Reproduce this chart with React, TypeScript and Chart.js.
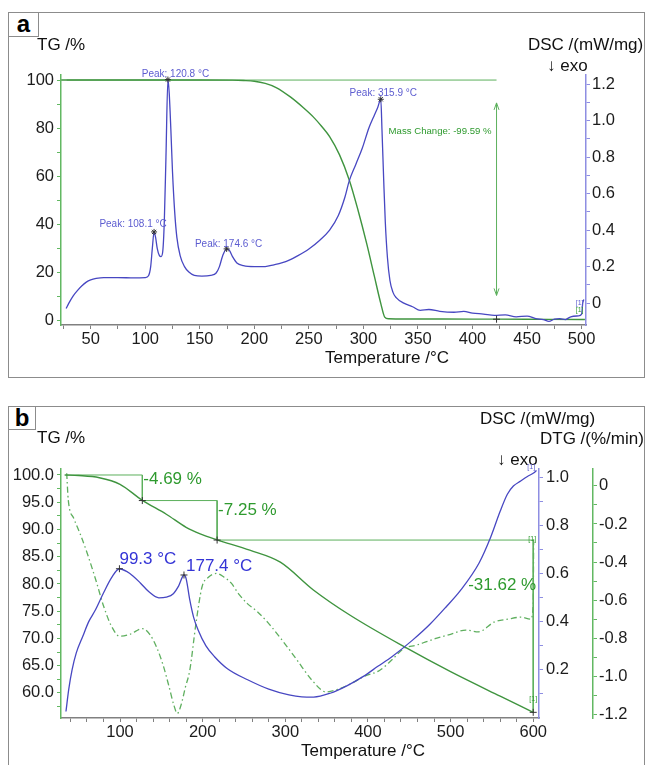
import React, { useEffect, useRef } from "react";
import { Chart, registerables } from "chart.js";
Chart.register(...registerables);

// ---------------- Panel a data ----------------
const aTgTemp = [23, 60, 100, 150, 180, 190, 200, 210, 220, 233, 245, 254, 262, 269, 278, 287, 295, 303, 310, 316, 319.5, 323, 340, 400, 450, 500, 503];
const aTgValue = [100, 100, 100, 100, 99.95, 99.8, 99.5, 98.6, 96.9, 93, 88.5, 84.7, 80.6, 76.5, 69, 58.5, 46, 32, 18.5, 7, 1.5, 0.8, 0.7, 0.65, 0.6, 0.5, 0.5];
const aDscTemp = [27.5, 30, 34, 38, 42, 46, 50, 55, 62, 75, 90, 100, 103, 105, 106.5, 108.1, 109.5, 111, 113, 114.5, 116, 117.5, 119, 120.8, 122, 123.5, 125, 127, 129, 132, 136, 140, 145, 152, 160, 165, 168, 171, 174.6, 177, 180, 184, 190, 200, 210, 218, 225, 232, 240, 250, 260, 269, 277, 283, 287, 293, 299, 305, 310, 313, 315.9, 317, 318.6, 320, 322, 324.3, 327, 330, 337, 345, 352, 360, 370, 383, 392, 400, 410, 420, 430, 440, 450, 458, 465, 470, 475, 480, 485, 490, 497, 500, 501, 502];
const aDscValue = [-0.03, 0.0, 0.04, 0.07, 0.095, 0.115, 0.127, 0.135, 0.14, 0.14, 0.138, 0.14, 0.15, 0.2, 0.3, 0.39, 0.36, 0.3, 0.26, 0.255, 0.28, 0.45, 0.8, 1.225, 1.15, 0.95, 0.72, 0.5, 0.36, 0.26, 0.2, 0.17, 0.152, 0.148, 0.152, 0.165, 0.2, 0.26, 0.297, 0.29, 0.255, 0.22, 0.205, 0.2, 0.2, 0.21, 0.22, 0.235, 0.26, 0.297, 0.345, 0.4, 0.48, 0.58, 0.67, 0.76, 0.85, 0.96, 1.03, 1.07, 1.117, 0.95, 0.67, 0.45, 0.25, 0.124, 0.06, 0.03, 0.0, -0.02, -0.04, -0.035, -0.045, -0.05, -0.045, -0.055, -0.06, -0.067, -0.064, -0.075, -0.071, -0.085, -0.09, -0.1, -0.088, -0.085, -0.09, -0.075, -0.07, -0.06, 0.0, 0.02];
const aPeakTemp = [108.1, 120.8, 174.6, 315.9];
const aPeakDsc = [0.39, 1.225, 0.297, 1.117];
const aPeakLabels = ["Peak: 108.1 °C", "Peak: 120.8 °C", "Peak: 174.6 °C", "Peak: 315.9 °C"];
const aRefLineTemp = [28, 422];
const aRefLineTg = [100, 100];
const aMassTemp = 422;
const aMassRange = [10.5, 90.5];
const aMassEndTg = 0.6;
const aMassLabel = "Mass Change: -99.59 %";
const aEndTemp = 500;
const aXTicks = [25, 50, 75, 100, 125, 150, 175, 200, 225, 250, 275, 300, 325, 350, 375, 400, 425, 450, 475, 500];
const aXLabels = [50, 100, 150, 200, 250, 300, 350, 400, 450, 500];
const aTgTicks = [0, 10, 20, 30, 40, 50, 60, 70, 80, 90, 100];
const aTgLabels = [0, 20, 40, 60, 80, 100];
const aDscTicks = [0, 0.1, 0.2, 0.3, 0.4, 0.5, 0.6, 0.7, 0.8, 0.9, 1.0, 1.1, 1.2];
const aDscLabels = [0, 0.2, 0.4, 0.6, 0.8, 1.0, 1.2];

// ---------------- Panel b data ----------------
const bTgTemp = [33, 50, 75, 100, 127, 156, 180, 197, 217.5, 257, 294, 334, 378, 446, 500, 560, 600];
const bTgValue = [100.0, 99.9, 99.5, 98.3, 95.35, 92.8, 90.4, 89.2, 88.1, 86.2, 84.0, 78.9, 74.3, 68.3, 63.9, 59.4, 56.45];
const bDscTemp = [34.6, 38, 42, 47, 55, 62, 70, 80, 90, 99.3, 108, 116, 124.6, 135, 147, 156, 164.5, 171, 177.4, 180, 184.5, 189, 194.5, 204, 214.4, 230, 254.4, 280, 304.4, 320, 334.3, 354.3, 375, 394, 412, 429, 454, 475, 494.5, 512, 534.5, 548.5, 560, 568.7, 576, 584.8, 593, 600.9, 604];
const bDscValue = [0.027, 0.12, 0.2, 0.27, 0.34, 0.4, 0.448, 0.52, 0.585, 0.621, 0.61, 0.59, 0.562, 0.525, 0.5, 0.503, 0.517, 0.55, 0.595, 0.58, 0.49, 0.42, 0.366, 0.3, 0.255, 0.205, 0.159, 0.12, 0.096, 0.088, 0.087, 0.103, 0.135, 0.172, 0.215, 0.255, 0.324, 0.39, 0.462, 0.531, 0.645, 0.752, 0.86, 0.931, 0.965, 0.986, 1.005, 1.02, 1.03];
const bDtgTemp = [35.5, 37.4, 44, 51.6, 60, 71.8, 80, 90, 99.5, 112, 127, 136, 144.5, 152, 159.4, 165, 169.4, 174, 179, 184.4, 192, 199.3, 207, 216.9, 226, 234.4, 244, 254.4, 266, 279.3, 296, 314.3, 332, 349.4, 363, 379.3, 396, 414, 430, 443.5, 458.5, 470, 483.5, 500, 518.5, 533.5, 553.5, 570, 585, 597, 600, 600.5];
const bDtgValue = [0.067, -0.074, -0.17, -0.25, -0.35, -0.51, -0.63, -0.74, -0.79, -0.78, -0.75, -0.78, -0.85, -0.94, -1.056, -1.15, -1.196, -1.15, -1.06, -0.97, -0.72, -0.53, -0.48, -0.46, -0.48, -0.51, -0.57, -0.62, -0.66, -0.72, -0.81, -0.916, -1.02, -1.083, -1.07, -1.04, -1.0, -0.97, -0.91, -0.854, -0.837, -0.82, -0.8, -0.78, -0.758, -0.767, -0.714, -0.7, -0.69, -0.7, -0.62, -0.28];
const bPeakTemp = [99.3, 177.4];
const bPeakDsc = [0.621, 0.595];
const bPeakLabels = ["99.3 °C", "177.4 °C"];
const bStepTemp = [35.5, 127, 217.5, 600];
const bStepTg = [100, 95.31, 88.06, 56.44];
const bStepLabels = ["-4.69 %", "-7.25 %", "-31.62 %"];
const bXTicks = [40, 60, 80, 100, 120, 140, 160, 180, 200, 220, 240, 260, 280, 300, 320, 340, 360, 380, 400, 420, 440, 460, 480, 500, 520, 540, 560, 580, 600];
const bXLabels = [100, 200, 300, 400, 500, 600];
const bTgTicks = [57.5, 60, 62.5, 65, 67.5, 70, 72.5, 75, 77.5, 80, 82.5, 85, 87.5, 90, 92.5, 95, 97.5, 100];
const bTgLabels = [60, 65, 70, 75, 80, 85, 90, 95, 100];
const bDscTicks = [0.1, 0.2, 0.3, 0.4, 0.5, 0.6, 0.7, 0.8, 0.9, 1.0];
const bDscLabels = [0.2, 0.4, 0.6, 0.8, 1.0];
const bDtgTicks = [-1.2, -1.1, -1.0, -0.9, -0.8, -0.7, -0.6, -0.5, -0.4, -0.3, -0.2, -0.1, 0];
const bDtgLabels = [-1.2, -1.0, -0.8, -0.6, -0.4, -0.2, 0];

// ---------------- styling ----------------
const FONT = '"Liberation Sans", Arial, Helvetica, sans-serif';
const GREEN_LINE = "#3f943f";
const GREEN_AXIS = "#62b862";
const GREEN_REF = "#5cb05c";
const GREEN_TEXT = "#2e9a2e";
const DTG_COLOR = "#5faf5f";
const BLUE_LINE = "#4747c2";
const BLUE_AXIS = "#8e8ee2";
const BLUE_TEXT_A = "#5c5cd0";
const BLUE_TEXT_B = "#3434d6";
const GRAY_AXIS = "#808080";
const TICK_TEXT = "#1c1c1c";
const TICK_SIZE = 16.5;

const pts = (xs: number[], ys: number[]) => xs.map((x, i) => ({ x, y: ys[i] }));

function makeTicks(values: number[]) {
  return (axis: any) => {
    axis.ticks = values.map((v) => ({ value: v }));
  };
}
function labelFor(labels: number[], fmt: (v: number) => string) {
  return (value: any) => {
    const v = Number(value);
    return labels.some((l) => Math.abs(l - v) < 1e-6) ? fmt(v) : "";
  };
}
const fmt0 = (v: number) => String(Math.round(v));
const fmt1 = (v: number) => (Math.abs(v) < 1e-9 ? "0" : v.toFixed(1));
const fmtTgB = (v: number) => v.toFixed(1);

function axis(o: {
  position: string; min: number; max: number; ticks: number[]; labels: number[];
  fmt: (v: number) => string; color: string; size: number; padding: number; horizontal?: boolean;
}) {
  return {
    type: "linear",
    position: o.position,
    min: o.min,
    max: o.max,
    afterBuildTicks: makeTicks(o.ticks),
    afterFit: (a: any) => {
      if (o.horizontal) a.height = o.size;
      else a.width = o.size;
    },
    ticks: {
      callback: labelFor(o.labels, o.fmt),
      autoSkip: false,
      maxRotation: 0,
      minRotation: 0,
      padding: o.padding,
      color: TICK_TEXT,
      font: { family: FONT, size: TICK_SIZE },
    },
    grid: { drawOnChartArea: false, drawTicks: true, tickLength: 4, color: o.color, lineWidth: 1 },
    border: { display: true, color: o.color, width: 1.5 },
  };
}

function txt(ctx: CanvasRenderingContext2D, s: string, x: number, y: number, size: number, color: string, align: CanvasTextAlign = "left") {
  ctx.save();
  ctx.font = `${size}px ${FONT}`;
  ctx.fillStyle = color;
  ctx.textAlign = align;
  ctx.textBaseline = "middle";
  ctx.fillText(s, x, y);
  ctx.restore();
}

function lineDs(data: any[], y: string, color: string, width: number, extra: any = {}) {
  return {
    type: "line",
    data,
    yAxisID: y,
    xAxisID: "x",
    borderColor: color,
    borderWidth: width,
    pointRadius: 0,
    fill: false,
    tension: 0,
    ...extra,
  };
}

const baseOptions = (top: number) => ({
  animation: false,
  responsive: false,
  maintainAspectRatio: false,
  devicePixelRatio: 1,
  events: [],
  parsing: false,
  layout: { padding: { top, left: 0, right: 0, bottom: 0 } },
  plugins: { legend: { display: false }, tooltip: { enabled: false }, title: { display: false } },
});

function configA(): any {
  const textPlugin = {
    id: "textA",
    afterDraw(chart: any) {
      const ctx = chart.ctx as CanvasRenderingContext2D;
      const x = chart.scales.x;
      const tg = chart.scales.tg;
      const dsc = chart.scales.dsc;
      txt(ctx, "TG /%", 37, 45, 17, "#111");
      txt(ctx, "DSC /(mW/mg)", 528, 45, 17, "#111");
      txt(ctx, "\u2193 exo", 547, 66, 17, "#111");
      txt(ctx, "Temperature /\u00b0C", 387, 358, 17, "#111", "center");
      // peak labels
      const dx = [-21, 7.5, 2, 2.5];
      const dy = [-8, -5, -5, -6.5];
      aPeakTemp.forEach((t, i) => {
        const px = x.getPixelForValue(t);
        const py = dsc.getPixelForValue(aPeakDsc[i]);
        txt(ctx, aPeakLabels[i], px + dx[i], py + dy[i], 10, BLUE_TEXT_A, "center");
      });
      // mass change arrow
      const ax = x.getPixelForValue(aMassTemp);
      const y1 = tg.getPixelForValue(aMassRange[0]);
      const y2 = tg.getPixelForValue(aMassRange[1]);
      ctx.save();
      ctx.strokeStyle = GREEN_REF;
      ctx.lineWidth = 1;
      ctx.beginPath();
      ctx.moveTo(ax, y1);
      ctx.lineTo(ax, y2);
      ctx.moveTo(ax - 2.5, y2 + 7);
      ctx.lineTo(ax, y2);
      ctx.lineTo(ax + 2.5, y2 + 7);
      ctx.moveTo(ax - 2.5, y1 - 7);
      ctx.lineTo(ax, y1);
      ctx.lineTo(ax + 2.5, y1 - 7);
      ctx.stroke();
      ctx.restore();
      txt(ctx, aMassLabel, ax - 5, tg.getPixelForValue(78.5), 9.6, GREEN_TEXT, "right");
      // end markers [1]
      const ex = x.getPixelForValue(aEndTemp) - 2;
      txt(ctx, "[1]", ex, tg.getPixelForValue(7.5), 7, BLUE_TEXT_A, "center");
      txt(ctx, "[1]", ex, tg.getPixelForValue(4.5), 7, GREEN_TEXT, "center");
    },
  };
  return {
    type: "line",
    data: {
      datasets: [
        {
          type: "scatter",
          data: pts(aPeakTemp, aPeakDsc),
          yAxisID: "dsc",
          xAxisID: "x",
          pointStyle: "star",
          pointRadius: 3,
          borderColor: "#333",
          borderWidth: 1,
          backgroundColor: "#333",
        },
        {
          type: "scatter",
          data: [{ x: aMassTemp, y: aMassEndTg }],
          yAxisID: "tg",
          xAxisID: "x",
          pointStyle: "cross",
          pointRadius: 3.5,
          borderColor: "#333",
          borderWidth: 1,
        },
        lineDs(pts(aDscTemp, aDscValue), "dsc", BLUE_LINE, 1.3, { cubicInterpolationMode: "monotone" }),
        lineDs(pts(aTgTemp, aTgValue), "tg", GREEN_LINE, 1.4, { cubicInterpolationMode: "monotone" }),
        lineDs(pts(aRefLineTemp, aRefLineTg), "tg", GREEN_REF, 1),
      ],
    },
    options: {
      ...baseOptions(75),
      scales: {
        x: axis({ position: "bottom", min: 22.8, max: 504, ticks: aXTicks, labels: aXLabels, fmt: fmt0, color: GRAY_AXIS, size: 59, padding: 1, horizontal: true }),
        tg: axis({ position: "left", min: -1.8, max: 102.1, ticks: aTgTicks, labels: aTgLabels, fmt: fmt0, color: GREEN_AXIS, size: 61, padding: 3 }),
        dsc: axis({ position: "right", min: -0.12, max: 1.25, ticks: aDscTicks, labels: aDscLabels, fmt: fmt1, color: BLUE_AXIS, size: 61, padding: 2 }),
      },
    },
    plugins: [textPlugin],
  };
}

function configB(): any {
  const OFF = 384;
  const textPlugin = {
    id: "textB",
    afterDraw(chart: any) {
      const ctx = chart.ctx as CanvasRenderingContext2D;
      const x = chart.scales.x;
      const tg = chart.scales.tg;
      const dsc = chart.scales.dsc;
      txt(ctx, "TG /%", 37, 438 - OFF, 17, "#111");
      txt(ctx, "DSC /(mW/mg)", 480, 419 - OFF, 17, "#111");
      txt(ctx, "DTG /(%/min)", 540, 439 - OFF, 17, "#111");
      txt(ctx, "\u2193 exo", 497, 460 - OFF, 17, "#111");
      txt(ctx, "Temperature /\u00b0C", 363, 751 - OFF, 17, "#111", "center");
      // peak labels
      bPeakTemp.forEach((t, i) => {
        const px = x.getPixelForValue(t);
        const py = dsc.getPixelForValue(bPeakDsc[i]);
        txt(ctx, bPeakLabels[i], px + (i === 0 ? 0 : 2), py - 9, 17, BLUE_TEXT_B, "left");
      });
      // step labels
      const s1x = x.getPixelForValue(bStepTemp[1]);
      const s2x = x.getPixelForValue(bStepTemp[2]);
      const s3x = x.getPixelForValue(bStepTemp[3]);
      txt(ctx, bStepLabels[0], s1x + 1, tg.getPixelForValue(bStepTg[0]) + 4.5, 17, GREEN_TEXT, "left");
      txt(ctx, bStepLabels[1], s2x + 1, tg.getPixelForValue(bStepTg[1]) + 10, 17, GREEN_TEXT, "left");
      txt(ctx, bStepLabels[2], s3x + 3, tg.getPixelForValue(bStepTg[2]) + 45, 17, GREEN_TEXT, "right");
      // end markers [1]
      txt(ctx, "[1]", s3x - 1, tg.getPixelForValue(bStepTg[2]) - 1, 7, GREEN_TEXT, "center");
      txt(ctx, "[1]", s3x, tg.getPixelForValue(bStepTg[3]) - 13, 7, GREEN_TEXT, "center");
      txt(ctx, "[1]", s3x - 2, dsc.getPixelForValue(1.02) - 6, 7, BLUE_TEXT_A, "center");
    },
  };
  const stepPts = [
    { x: bStepTemp[0], y: bStepTg[0] },
    { x: bStepTemp[1], y: bStepTg[0] },
    { x: bStepTemp[1], y: bStepTg[1] },
    { x: bStepTemp[2], y: bStepTg[1] },
    { x: bStepTemp[2], y: bStepTg[2] },
    { x: bStepTemp[3], y: bStepTg[2] },
    { x: bStepTemp[3], y: bStepTg[3] },
  ];
  return {
    type: "line",
    data: {
      datasets: [
        {
          type: "scatter",
          data: pts(bPeakTemp, bPeakDsc),
          yAxisID: "dsc",
          xAxisID: "x",
          pointStyle: "cross",
          pointRadius: 3.5,
          borderColor: "#333",
          borderWidth: 1,
        },
        {
          type: "scatter",
          data: pts(bStepTemp.slice(1), bStepTg.slice(1)),
          yAxisID: "tg",
          xAxisID: "x",
          pointStyle: "cross",
          pointRadius: 3.5,
          borderColor: "#333",
          borderWidth: 1,
        },
        lineDs(pts(bDscTemp, bDscValue), "dsc", BLUE_LINE, 1.3, { cubicInterpolationMode: "monotone" }),
        lineDs(pts(bTgTemp, bTgValue), "tg", GREEN_LINE, 1.4, { cubicInterpolationMode: "monotone" }),
        lineDs(pts(bDtgTemp, bDtgValue), "dtg", DTG_COLOR, 1.3, { cubicInterpolationMode: "monotone", borderDash: [6, 3, 1.5, 3] }),
        lineDs(stepPts, "tg", GREEN_REF, 1),
      ],
    },
    options: {
      ...baseOptions(85),
      scales: {
        x: axis({ position: "bottom", min: 28.6, max: 607, ticks: bXTicks, labels: bXLabels, fmt: fmt0, color: GRAY_AXIS, size: 47, padding: 1, horizontal: true }),
        tg: axis({ position: "left", min: 55.4, max: 101.1, ticks: bTgTicks, labels: bTgLabels, fmt: fmtTgB, color: GREEN_AXIS, size: 61, padding: 3 }),
        dsc: axis({ position: "right", min: 0.0, max: 1.036, ticks: bDscTicks, labels: bDscLabels, fmt: fmt1, color: BLUE_AXIS, size: 54, padding: 3 }),
        dtg: axis({ position: "right", min: -1.22, max: 0.089, ticks: bDtgTicks, labels: bDtgLabels, fmt: fmt1, color: GREEN_AXIS, size: 54, padding: 2 }),
      },
    },
    plugins: [textPlugin],
  };
}

const frameStyle = (left: number, top: number, width: number, height: number): React.CSSProperties => ({
  position: "absolute",
  left,
  top,
  width,
  height,
  border: "1.5px solid #8c8c8c",
  boxSizing: "border-box",
});

export default function App() {
  const refA = useRef<HTMLCanvasElement>(null);
  const refB = useRef<HTMLCanvasElement>(null);
  useEffect(() => {
    const ca = new Chart(refA.current as HTMLCanvasElement, configA());
    const cb = new Chart(refB.current as HTMLCanvasElement, configB());
    return () => {
      ca.destroy();
      cb.destroy();
    };
  }, []);
  const boxLabel: React.CSSProperties = {
    fontFamily: FONT,
    fontWeight: "bold",
    fontSize: 24,
    textAlign: "center",
    color: "#000",
  };
  return (
    <div style={{ position: "fixed", left: 0, top: 0, width: 647, height: 765, background: "#fff", overflow: "hidden" }}>
      <div style={frameStyle(8, 12, 637, 366)} />
      <div style={{ ...frameStyle(8, 12, 31, 25), ...boxLabel, lineHeight: "21px" }}>a</div>
      <div style={frameStyle(8, 406, 637, 420)} />
      <div style={{ ...frameStyle(8, 406, 28, 24), ...boxLabel, lineHeight: "22px" }}>b</div>
      <canvas ref={refA} width={647} height={384} style={{ position: "absolute", left: 0, top: 0, width: 647, height: 384 }} />
      <canvas ref={refB} width={647} height={381} style={{ position: "absolute", left: 0, top: 384, width: 647, height: 381 }} />
    </div>
  );
}
